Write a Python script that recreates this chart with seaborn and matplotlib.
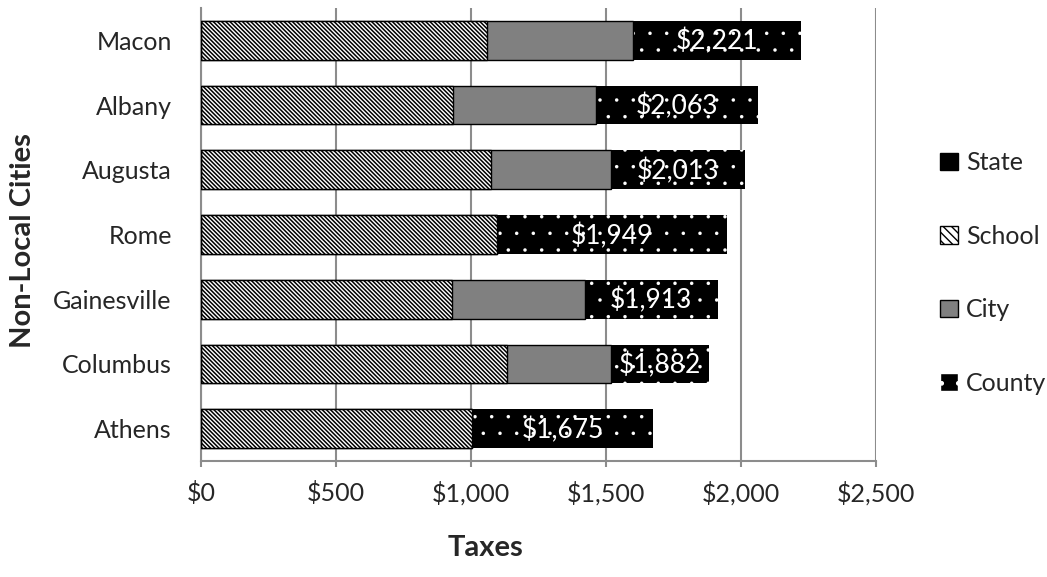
import matplotlib
matplotlib.use("Agg")
import matplotlib.pyplot as plt
import pandas as pd
import seaborn as sns
from matplotlib.patches import Patch
from matplotlib.ticker import FixedLocator, FuncFormatter

# ---- data (top to bottom as shown) ----
cities = ["Macon", "Albany", "Augusta", "Rome", "Gainesville", "Columbus", "Athens"]
state = [0, 0, 0, 0, 0, 0, 0]
school = [1059, 933, 1074, 1096, 931, 1133, 1004]
city = [541, 530, 445, 0, 492, 386, 0]
county = [621, 600, 494, 853, 490, 363, 671]
totals = [2221, 2063, 2013, 1949, 1913, 1882, 1675]
x_ticks = [0, 500, 1000, 1500, 2000, 2500]
legend_labels = ["State", "School", "City", "County"]

sns.set_theme(style="white")
plt.rcParams['font.family'] = ['Lato', 'DejaVu Sans']

df = pd.DataFrame({"city_name": cities, "state": state, "school": school,
                   "city": city, "county": county})
df["end_state"] = df["state"]
df["end_school"] = df["end_state"] + df["school"]
df["end_city"] = df["end_school"] + df["city"]
df["end_county"] = df["end_city"] + df["county"]

W, H = 1047, 577
fig = plt.figure(figsize=(W / 100, H / 100), dpi=100)
ax = fig.add_axes([201 / W, 1 - 461 / H, 675 / W, 453 / H])

GRID = "#8c8c8c"
SCHOOL_HATCH = "\\" * 8
bw = 0.6
# county (full length, drawn first), then overlay city, school, state
with plt.rc_context({"hatch.linewidth": 0.1}):
    sns.barplot(data=df, y="city_name", x="end_county", orient="h", color="black",
                saturation=1, width=bw, hatch=".", edgecolor="white", linewidth=0,
                ax=ax, zorder=2)
sns.barplot(data=df, y="city_name", x="end_city", orient="h", color="#808080",
            saturation=1, width=bw, edgecolor="black", linewidth=1.0, ax=ax, zorder=3)
with plt.rc_context({"hatch.linewidth": 1.1}):
    sns.barplot(data=df, y="city_name", x="end_school", orient="h", color="white",
                saturation=1, width=bw, hatch=SCHOOL_HATCH, edgecolor="black",
                linewidth=1.0, ax=ax, zorder=4)
sns.barplot(data=df, y="city_name", x="end_state", orient="h", color="black",
            saturation=1, width=bw, edgecolor="black", linewidth=1.0, ax=ax, zorder=5)

# total labels inside county segment
for i, (s, e, t) in enumerate(zip(df["end_city"], df["end_county"], totals)):
    ax.text((s + e) / 2, i + 0.02, f"${t:,}", color="white", ha="center",
            va="center", fontsize=19, zorder=6)

ax.set_xlim(0, 2500)
ax.set_ylim(6.5, -0.5)
ax.xaxis.set_major_locator(FixedLocator(x_ticks))
ax.xaxis.set_major_formatter(FuncFormatter(lambda v, p: f"${v:,.0f}"))
ax.grid(False)
ax.xaxis.grid(True, color=GRID, linewidth=1.5)
ax.set_axisbelow(True)
for sp in ["top", "right"]:
    ax.spines[sp].set_visible(False)
for sp in ["left", "bottom"]:
    ax.spines[sp].set_color(GRID)
    ax.spines[sp].set_linewidth(1.5)

ax.yaxis.set_minor_locator(FixedLocator([i - 0.5 for i in range(len(cities) + 1)]))
ax.tick_params(axis="y", which="major", length=0, pad=21, labelsize=18)
ax.tick_params(axis="y", which="minor", length=4.5, width=1.5, color=GRID, direction="out")
ax.tick_params(axis="x", which="major", length=4.5, width=1.5, color=GRID,
               direction="out", pad=10, labelsize=18, bottom=True)
ax.set_xlabel("")
ax.set_ylabel("")

fig.text(23 / W, 1 - 241 / H, "Non-Local Cities", rotation=90, ha="center",
         va="center", fontsize=21, fontweight="bold")
fig.text(486 / W, 1 - 548 / H, "Taxes", ha="center", va="center",
         fontsize=21, fontweight="bold")

with plt.rc_context({"hatch.linewidth": 1.0}):
    h_school = Patch(facecolor="white", edgecolor="black", hatch="\\\\\\\\")
with plt.rc_context({"hatch.linewidth": 0.1}):
    h_county = Patch(facecolor="black", edgecolor="white", hatch=".")
handles = [
    Patch(facecolor="black", edgecolor="black"),
    h_school,
    Patch(facecolor="#808080", edgecolor="black"),
    h_county,
]
fig.legend(handles, legend_labels, loc="center left",
           bbox_to_anchor=(930 / W, 1 - 273 / H), frameon=False, fontsize=18,
           handlelength=0.7, handleheight=0.7, handletextpad=0.35,
           labelspacing=2.02, borderaxespad=0)

fig.savefig("out.png", dpi=100)
